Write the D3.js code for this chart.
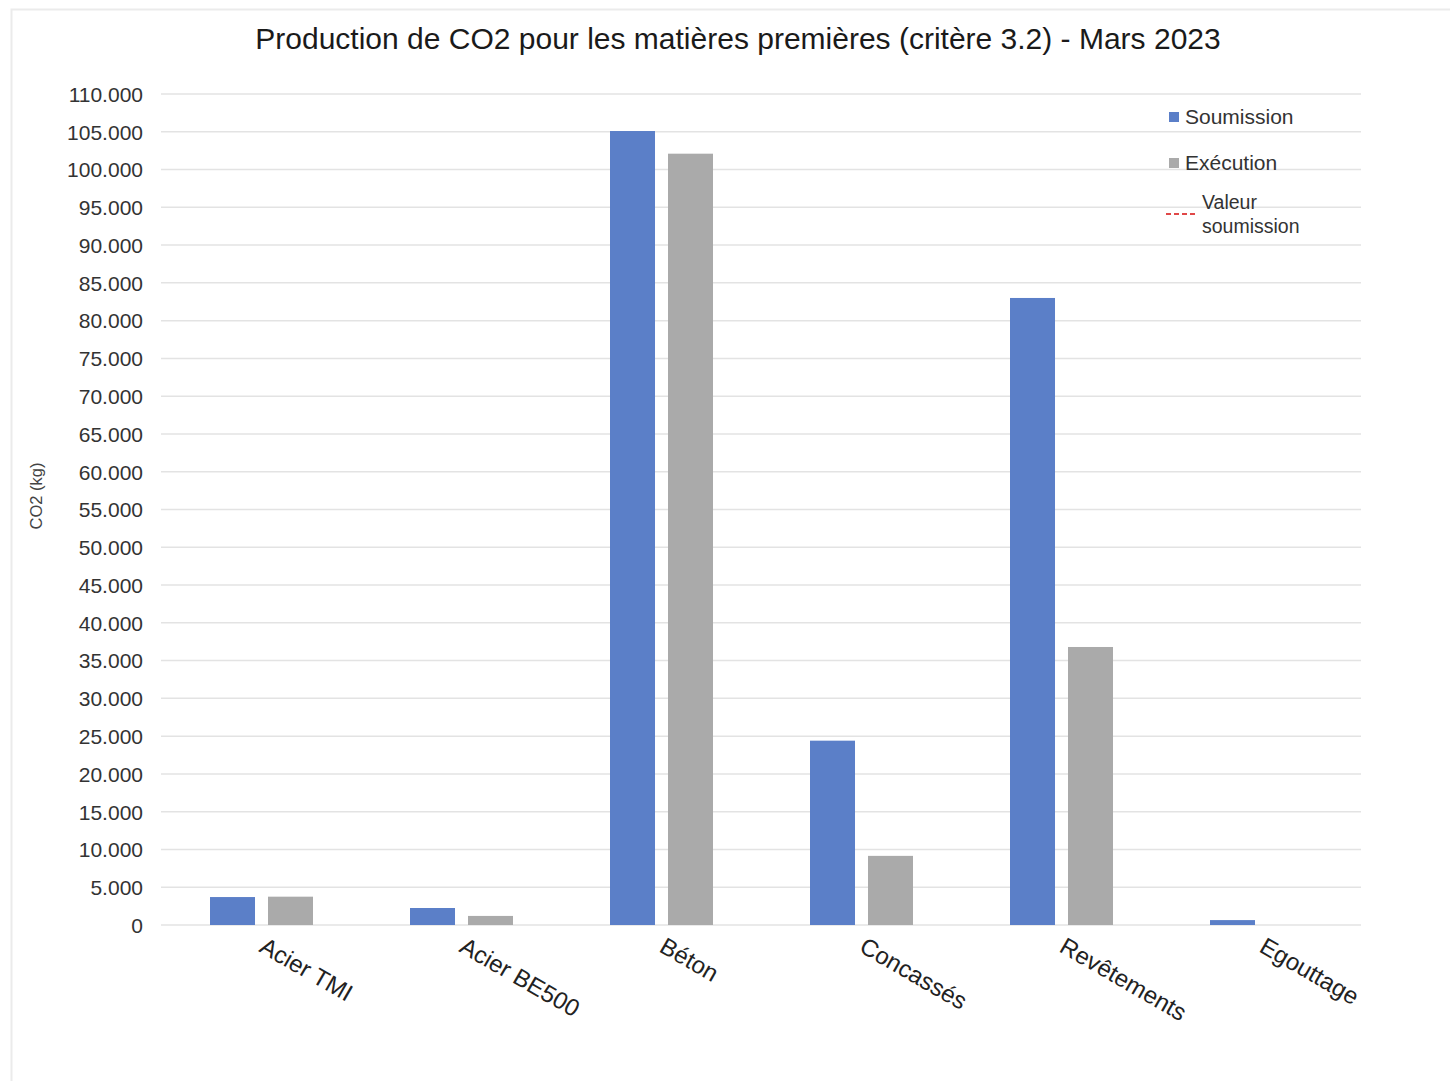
<!DOCTYPE html>
<html>
<head>
<meta charset="utf-8">
<script src="https://cdn.jsdelivr.net/npm/d3@7"></script>
<style>
  body { margin: 0; background: #fff; font-family: "Liberation Sans", Arial, sans-serif; }
</style>
</head>
<body>
<div id="chart"></div>
<script>
// data
var categories = ["Acier TMI", "Acier BE500", "Béton", "Concassés", "Revêtements", "Egouttage"];
var soumission = [3700, 2250, 105100, 24400, 83000, 650];
var execution = [3750, 1200, 102100, 9150, 36800, 0];
var yTicks = d3.range(0, 110001, 5000);
var seriesNames = ["Soumission", "Exécution"];
var seriesColors = ["#5b7fc8", "#aaaaaa"];

var W = 1450, H = 1081;
var margin = { top: 94, left: 161, right: 89, bottom: 156 },
    width = W - margin.left - margin.right,
    height = H - margin.top - margin.bottom;

var svg = d3.select("#chart")
    .append("svg")
    .attr("width", W)
    .attr("height", H);

// faint frame of the chart area
svg.append("rect")
    .attr("x", 11.5).attr("y", 9.5)
    .attr("width", W).attr("height", H)
    .attr("fill", "none")
    .attr("stroke", "#ebebeb")
    .attr("stroke-width", 2);

svg.append("text")
    .attr("x", 738).attr("y", 49)
    .attr("text-anchor", "middle")
    .style("font-size", "30px")
    .style("fill", "#1a1a1a")
    .text("Production de CO2 pour les matières premières (critère 3.2) - Mars 2023");

var g = svg.append("g")
    .attr("transform", "translate(" + margin.left + "," + margin.top + ")");

var x = d3.scaleBand()
    .domain(categories)
    .range([0, width]);

var xInner = d3.scaleBand()
    .domain(seriesNames)
    .range([0, 103])
    .paddingInner(0.224);

var y = d3.scaleLinear()
    .domain([0, 110000])
    .range([height, 0]);

// grid
g.selectAll(".grid")
    .data(yTicks)
    .enter()
    .append("line")
    .attr("x1", 0).attr("x2", width)
    .attr("y1", function (d) { return y(d); })
    .attr("y2", function (d) { return y(d); })
    .attr("stroke", "#e3e3e3")
    .attr("stroke-width", 1.5);

// y axis labels
var fmt = function (d) { return d3.format(",")(d).replace(/,/g, "."); };
var yAxis = g.append("g")
    .call(d3.axisLeft(y).tickValues(yTicks).tickFormat(fmt).tickSize(0).tickPadding(18));
yAxis.select(".domain").remove();
yAxis.selectAll("text")
    .style("font-size", "21px")
    .style("font-family", "'Liberation Sans', Arial, sans-serif")
    .style("fill", "#333")
    .attr("dy", "0.35em");

svg.append("text")
    .attr("transform", "translate(42,496) rotate(-90)")
    .attr("text-anchor", "middle")
    .style("font-size", "16.5px")
    .style("fill", "#444")
    .text("CO2 (kg)");

// bars
var rows = categories.map(function (c, i) {
    return { cat: c, values: [soumission[i], execution[i]] };
});

var groups = g.selectAll(".grp")
    .data(rows)
    .enter()
    .append("g")
    .attr("transform", function (d) {
        return "translate(" + (x(d.cat) + x.bandwidth() / 2 - 51) + ",0)";
    });

groups.selectAll("rect")
    .data(function (d) { return d.values; })
    .enter()
    .append("rect")
    .attr("x", function (d, i) { return xInner(seriesNames[i]); })
    .attr("width", xInner.bandwidth())
    .attr("y", function (d) { return y(d); })
    .attr("height", function (d) { return height - y(d); })
    .attr("fill", function (d, i) { return seriesColors[i]; });

// x labels, rotated
g.selectAll(".xlab")
    .data(categories)
    .enter()
    .append("text")
    .attr("transform", function (d) {
        return "translate(" + (x(d) + x.bandwidth() / 2 - 3) + "," + (height + 26) + ") rotate(30)";
    })
    .style("font-size", "24px")
    .style("fill", "#222")
    .text(function (d) { return d; });

// legend
var leg = svg.append("g");
seriesNames.forEach(function (s, i) {
    leg.append("rect")
        .attr("x", 1169).attr("y", 112 + i * 46)
        .attr("width", 10).attr("height", 10)
        .attr("fill", seriesColors[i]);
    leg.append("text")
        .attr("x", 1185).attr("y", 124 + i * 46)
        .style("font-size", "21px")
        .style("fill", "#333")
        .text(s);
});
leg.append("line")
    .attr("x1", 1166).attr("x2", 1196)
    .attr("y1", 214).attr("y2", 214)
    .attr("stroke", "#e04848")
    .attr("stroke-width", 2)
    .attr("stroke-dasharray", "5,3");
leg.append("text")
    .attr("x", 1202).attr("y", 209)
    .style("font-size", "19.5px")
    .style("fill", "#333")
    .text("Valeur");
leg.append("text")
    .attr("x", 1202).attr("y", 233)
    .style("font-size", "19.5px")
    .style("fill", "#333")
    .text("soumission");
</script>
</body>
</html>
